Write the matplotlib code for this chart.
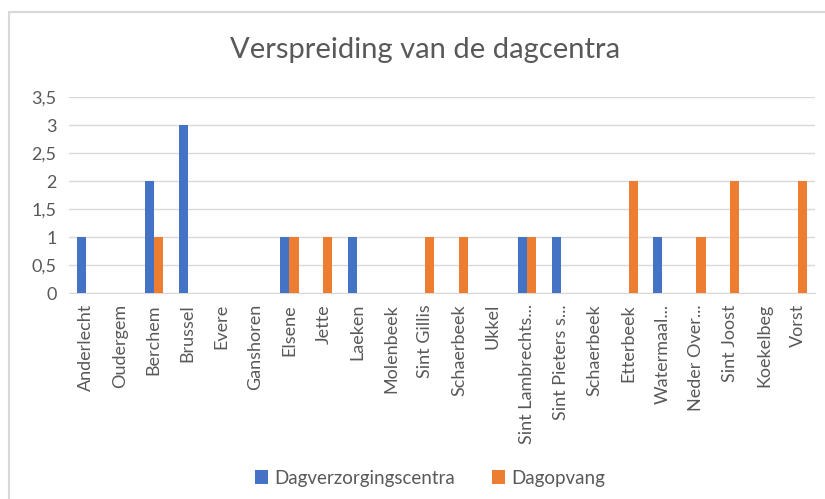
import numpy as np
import matplotlib.pyplot as plt
from matplotlib.patches import Rectangle
from matplotlib.ticker import FuncFormatter

gemeenten = ['Anderlecht', 'Oudergem', 'Berchem', 'Brussel', 'Evere', 'Ganshoren',
             'Elsene', 'Jette', 'Laeken', 'Molenbeek', 'Sint Gillis', 'Schaerbeek',
             'Ukkel', 'Sint Lambrechts...', 'Sint Pieters s...', 'Schaerbeek',
             'Etterbeek', 'Watermaal...', 'Neder Over...', 'Sint Joost', 'Koekelbeg', 'Vorst']
dagverzorging = [1, 0, 2, 3, 0, 0, 1, 0, 1, 0, 0, 0, 0, 1, 1, 0, 0, 1, 0, 0, 0, 0]
dagopvang = [0, 0, 1, 0, 0, 0, 1, 1, 0, 0, 1, 1, 0, 1, 0, 0, 2, 0, 1, 2, 0, 2]

plt.rcParams['font.family'] = ['Lato', 'DejaVu Sans']
grey = '#595959'

fig = plt.figure(figsize=(8.25, 4.99), dpi=100)
ax = fig.add_axes([0.0836, 0.4128, 0.9044, 0.3928])

# chart frame, partly outside the picture
fig.patches.append(Rectangle((9 / 825, -0.1), 1.2, 1 - 12 / 499 + 0.1,
                             transform=fig.transFigure, fill=False,
                             edgecolor='#d9d9d9', linewidth=1.5))

x = np.arange(len(gemeenten))
w = 0.27
ax.bar(x - w / 2, dagverzorging, w, color='#4472C4', label='Dagverzorgingscentra', zorder=3)
ax.bar(x + w / 2, dagopvang, w, color='#ED7D31', label='Dagopvang', zorder=3)

ax.set_xlim(-0.5, len(gemeenten) - 0.5)
ax.set_ylim(0, 3.5)
ax.set_yticks(np.arange(0, 3.51, 0.5))
ax.yaxis.set_major_formatter(FuncFormatter(lambda v, p: f'{v:g}'.replace('.', ',')))
ax.set_xticks(x)
ax.set_xticklabels(gemeenten, rotation=90, fontsize=13, color=grey)
ax.tick_params(axis='y', labelsize=13, colors=grey, length=0, pad=9)
ax.tick_params(axis='x', length=0, pad=8)
ax.grid(axis='y', color='#d9d9d9', linewidth=1, zorder=0)
for s in ['top', 'right', 'left']:
    ax.spines[s].set_visible(False)
ax.spines['bottom'].set_color('#d9d9d9')

fig.text(0.515, 0.9, 'Verspreiding van de dagcentra', ha='center', va='center',
         fontsize=21, color=grey)
fig.legend(loc='center', bbox_to_anchor=(0.521, 0.042), ncol=2, frameon=False,
           fontsize=13.5, labelcolor=grey, handlelength=0.7, handleheight=0.7,
           columnspacing=2.0, handletextpad=0.3)

fig.savefig('out.png', dpi=100)
